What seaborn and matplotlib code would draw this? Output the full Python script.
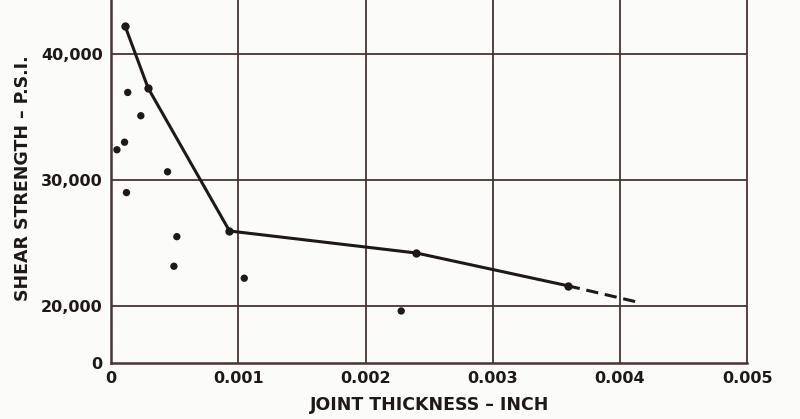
import matplotlib
matplotlib.use("Agg")
import matplotlib.pyplot as plt
import numpy as np
import pandas as pd
import seaborn as sns

# joint thickness (inch) vs shear strength (psi)
curve_x = [0.00011, 0.00029, 0.00093, 0.0024, 0.00359]
curve_y = [42200, 37300, 25950, 24200, 21600]
ext_x = [0.00359, 0.00416]
ext_y = [21600, 20250]
scatter_x = [0.000045, 0.000105, 0.00013, 0.000233, 0.00012, 0.000443,
             0.000516, 0.000493, 0.001046, 0.00228]
scatter_y = [32400, 33000, 36950, 35100, 29000, 30650,
             25500, 23150, 22200, 19600]

x_ticks = [0, 0.001, 0.002, 0.003, 0.004, 0.005]
x_labels = ["0", "0.001", "0.002", "0.003", "0.004", "0.005"]
y_ticks = [15480, 20000, 30000, 40000]   # broken axis: "0" sits at the bottom
y_labels = ["0", "20,000", "30,000", "40,000"]

sns.set_theme(style="white")
plt.rcParams.update({"font.family": "DejaVu Sans",
                     "font.weight": "bold"})

ink = "#1e1818"
grid = "#4a3333"
bg = "#fbfbf9"

fig = plt.figure(figsize=(8, 4.19), dpi=100, facecolor=bg)
ax = fig.add_axes([0.139, 0.134, 0.795, 0.866], facecolor=bg)

curve = pd.DataFrame({"x": curve_x, "y": curve_y})
ext = pd.DataFrame({"x": ext_x, "y": ext_y})
pts = pd.DataFrame({"x": scatter_x, "y": scatter_y})

sns.lineplot(data=curve, x="x", y="y", ax=ax, color=ink, lw=2.2,
             marker="o", markersize=6, markeredgewidth=0, sort=False)
sns.lineplot(data=ext, x="x", y="y", ax=ax, color=ink, lw=2.2,
             linestyle=(0, (4, 2.2)), sort=False)
sns.scatterplot(data=pts, x="x", y="y", ax=ax, color=ink, s=28,
                edgecolor="none", zorder=3)

ax.set_xlim(0, 0.005)
ax.set_ylim(15480, 44290)

for gx in x_ticks[1:-1]:
    ax.axvline(gx, color=grid, lw=1.3, zorder=0)
for gy in y_ticks[1:]:
    ax.axhline(gy, color=grid, lw=1.3, zorder=0)

ax.set_xticks(x_ticks)
ax.set_xticklabels(x_labels)
ax.set_yticks(y_ticks)
ax.set_yticklabels(y_labels)
ax.tick_params(length=0, labelsize=11.5, colors=ink, pad=6)

for side in ["left", "bottom", "right"]:
    ax.spines[side].set_color(grid)
    ax.spines[side].set_linewidth(1.8)
ax.spines["right"].set_linewidth(1.3)
ax.spines["top"].set_visible(False)

ax.set_xlabel("JOINT THICKNESS \u2013 INCH", fontsize=12.5, color=ink,
              fontweight="bold", labelpad=7)
ax.set_ylabel("SHEAR STRENGTH \u2013 P.S.I.", fontsize=12.5, color=ink,
              fontweight="bold", labelpad=9)
ax.yaxis.set_label_coords(-0.125, 0.51)

fig.savefig("out.png", dpi=100, facecolor=bg)
